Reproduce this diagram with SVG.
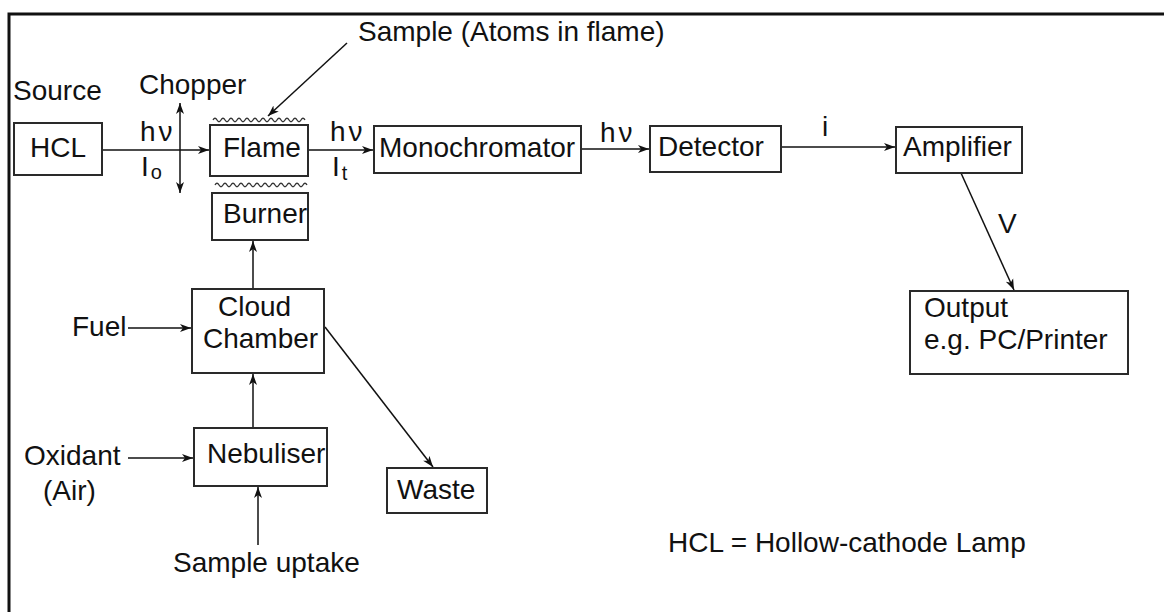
<svg xmlns="http://www.w3.org/2000/svg" width="1168" height="612" viewBox="0 0 1168 612">
<style>
.box{fill:#fff;stroke:#2a2a2a;stroke-width:2}
.t{font-family:"Liberation Sans",Arial,sans-serif;font-size:28px;fill:#111}
.sub{font-size:20px}
.c{fill:none;stroke:#111;stroke-width:1.5}
.w{fill:none;stroke:#333;stroke-width:1.3}
</style>
<defs>
<marker id="ah" markerUnits="userSpaceOnUse" markerWidth="12" markerHeight="10" refX="11" refY="5" orient="auto-start-reverse">
<path d="M0,1 L11,5 L0,9 L3,5 z" fill="#111"/>
</marker>
</defs>
<rect width="1168" height="612" fill="#fff"/>
<path d="M9,612 V14 H1164" fill="none" stroke="#111" stroke-width="3"/>

<g id="connectors">
<line class="c" x1="102" y1="150" x2="209" y2="150" marker-end="url(#ah)"/>
<line class="c" x1="308" y1="150" x2="373" y2="150" marker-end="url(#ah)"/>
<line class="c" x1="581" y1="149" x2="649" y2="149" marker-end="url(#ah)"/>
<line class="c" x1="781" y1="147" x2="895" y2="147" marker-end="url(#ah)"/>
<line class="c" x1="961" y1="173" x2="1014" y2="290" marker-end="url(#ah)"/>
<line class="c" x1="180" y1="103" x2="180" y2="193" marker-start="url(#ah)" marker-end="url(#ah)"/>
<line class="c" x1="347" y1="43" x2="268" y2="116" marker-end="url(#ah)"/>
<line class="c" x1="253" y1="289" x2="253" y2="241" marker-end="url(#ah)"/>
<line class="c" x1="253" y1="428" x2="253" y2="374" marker-end="url(#ah)"/>
<line class="c" x1="258" y1="545" x2="258" y2="487" marker-end="url(#ah)"/>
<line class="c" x1="128" y1="328" x2="191" y2="328" marker-end="url(#ah)"/>
<line class="c" x1="128" y1="458" x2="193" y2="458" marker-end="url(#ah)"/>
<line class="c" x1="325" y1="327" x2="433" y2="467" marker-end="url(#ah)"/>
</g>

<g id="flame-waves">
<path class="w" d="M213,120 q2,-3.5 4,0 t4,0 t4,0 t4,0 t4,0 t4,0 t4,0 t4,0 t4,0 t4,0 t4,0 t4,0 t4,0 t4,0 t4,0 t4,0 t4,0 t4,0 t4,0 t4,0 t4,0 t4,0 t4,0"/>
<path class="w" d="M215,185 q2,-3.5 4,0 t4,0 t4,0 t4,0 t4,0 t4,0 t4,0 t4,0 t4,0 t4,0 t4,0 t4,0 t4,0 t4,0 t4,0 t4,0 t4,0 t4,0 t4,0 t4,0 t4,0 t4,0 t4,0"/>
</g>

<g id="hcl"><rect class="box" x="14" y="123" width="88" height="52"/><text class="t" x="30" y="157">HCL</text></g>
<g id="flame"><rect class="box" x="210" y="125" width="98" height="51"/><text class="t" x="223" y="157">Flame</text></g>
<g id="burner"><rect class="box" x="212" y="193" width="96" height="47"/><text class="t" x="223" y="223">Burner</text></g>
<g id="monochromator"><rect class="box" x="374" y="126" width="207" height="47"/><text class="t" x="379" y="157">Monochromator</text></g>
<g id="detector"><rect class="box" x="650" y="126" width="131" height="46"/><text class="t" x="658" y="156">Detector</text></g>
<g id="amplifier"><rect class="box" x="896" y="127" width="126" height="46"/><text class="t" x="903" y="156">Amplifier</text></g>
<g id="output"><rect class="box" x="910" y="291" width="218" height="83"/><text class="t" x="924" y="317">Output</text><text class="t" x="924" y="349">e.g. PC/Printer</text></g>
<g id="cloud-chamber"><rect class="box" x="192" y="289" width="132" height="84"/><text class="t" x="218" y="316">Cloud</text><text class="t" x="203" y="348">Chamber</text></g>
<g id="nebuliser"><rect class="box" x="194" y="428" width="133" height="58"/><text class="t" x="207" y="463">Nebuliser</text></g>
<g id="waste"><rect class="box" x="387" y="468" width="100" height="45"/><text class="t" x="397" y="499">Waste</text></g>

<g id="labels">
<text class="t" x="13" y="100">Source</text>
<text class="t" x="139" y="94">Chopper</text>
<text class="t" x="358" y="41">Sample (Atoms in flame)</text>
<text class="t" x="140" y="141">h<tspan dx="3">ν</tspan></text>
<text class="t" x="141" y="176">I<tspan class="sub" dx="2" dy="3">o</tspan></text>
<text class="t" x="330" y="141">h<tspan dx="3">ν</tspan></text>
<text class="t" x="332" y="176">I<tspan class="sub" dx="2" dy="4">t</tspan></text>
<text class="t" x="600" y="142">h<tspan dx="3">ν</tspan></text>
<text class="t" x="822" y="136">i</text>
<text class="t" x="998" y="233">V</text>
<text class="t" x="72" y="336">Fuel</text>
<text class="t" x="24" y="465">Oxidant</text>
<text class="t" x="43" y="500">(Air)</text>
<text class="t" x="173" y="572">Sample uptake</text>
<text class="t" x="668" y="552">HCL = Hollow-cathode Lamp</text>
</g>
</svg>
